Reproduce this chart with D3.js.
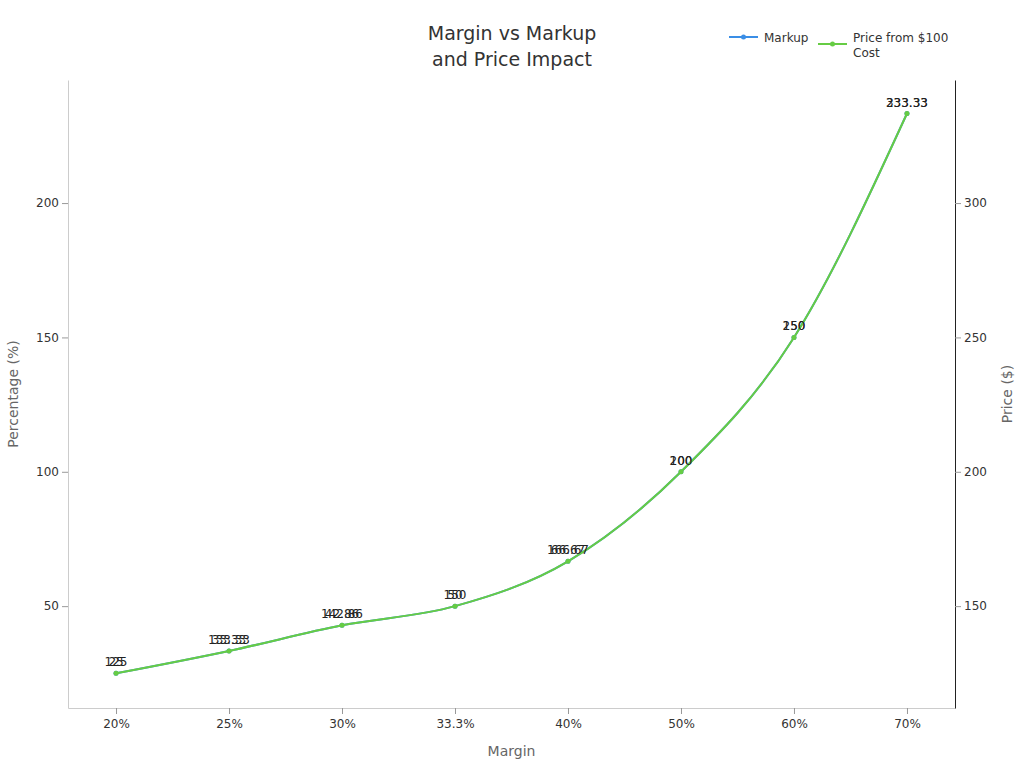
<!DOCTYPE html>
<html>
<head>
<meta charset="utf-8">
<script src="https://cdn.jsdelivr.net/npm/d3@7"></script>
<style>
  body { margin: 0; background: #fff; }
  svg { font-family: "DejaVu Sans", sans-serif; }
</style>
</head>
<body>
<svg id="chart" width="1024" height="768"></svg>
<script>
const margins = ["20%", "25%", "30%", "33.3%", "40%", "50%", "60%", "70%"];
const markup = [25, 33.33, 42.86, 50, 66.67, 100, 150, 233.33];
const price = [125, 133.33, 142.86, 150, 166.67, 200, 250, 333.33];
const leftTicks = [50, 100, 150, 200];
const rightTicks = [150, 200, 250, 300];

const size = { width: 1024, height: 768 };
const plot = { top: 80, right: 955, bottom: 708, left: 68 };
const colors = { markup: "#3a8ee6", price: "#66cc44" };

const svg = d3.select("#chart");

const x = d3
  .scalePoint()
  .domain(margins)
  .range([plot.left, plot.right])
  .padding(0.425);

const yLeft = d3
  .scaleLinear()
  .domain([12.1, 245.8])
  .range([plot.bottom, plot.top]);

const yRight = d3
  .scaleLinear()
  .domain([112.1, 345.8])
  .range([plot.bottom, plot.top]);

// title
svg
  .append("text")
  .attr("x", size.width / 2)
  .attr("text-anchor", "middle")
  .style("font-size", "19px")
  .style("fill", "#333")
  .selectAll("tspan")
  .data(["Margin vs Markup", "and Price Impact"])
  .enter()
  .append("tspan")
  .attr("x", size.width / 2)
  .attr("y", (d, i) => 40 + i * 26)
  .text((d) => d);

// axes
const xAxis = svg
  .append("g")
  .attr("transform", `translate(0,${plot.bottom})`)
  .call(d3.axisBottom(x).tickSizeOuter(0));
xAxis.select(".domain").attr("stroke", "#ccc");
xAxis.selectAll(".tick line").attr("stroke", "#999");

const leftAxis = svg
  .append("g")
  .attr("transform", `translate(${plot.left},0)`)
  .call(d3.axisLeft(yLeft).tickValues(leftTicks).tickSizeOuter(0));
leftAxis.select(".domain").attr("stroke", "#ccc");
leftAxis.selectAll(".tick line").attr("stroke", "#999");

const rightAxis = svg
  .append("g")
  .attr("transform", `translate(${plot.right},0)`)
  .call(d3.axisRight(yRight).tickValues(rightTicks).tickSizeOuter(0));
rightAxis.select(".domain").attr("stroke", "#222");
rightAxis.selectAll(".tick line").attr("stroke", "#999");

svg
  .selectAll(".tick text")
  .style("font-family", "DejaVu Sans, sans-serif")
  .style("font-size", "12px")
  .style("fill", "#333");
xAxis.selectAll(".tick text").attr("dy", "0.95em");

// axis titles
svg
  .append("text")
  .attr("x", (plot.left + plot.right) / 2)
  .attr("y", 756)
  .attr("text-anchor", "middle")
  .style("font-size", "14px")
  .style("fill", "#666")
  .text("Margin");

svg
  .append("text")
  .attr("transform", `translate(18,${(plot.top + plot.bottom) / 2}) rotate(-90)`)
  .attr("text-anchor", "middle")
  .style("font-size", "14px")
  .style("fill", "#666")
  .text("Percentage (%)");

svg
  .append("text")
  .attr("transform", `translate(1012,${(plot.top + plot.bottom) / 2}) rotate(-90)`)
  .attr("text-anchor", "middle")
  .style("font-size", "14px")
  .style("fill", "#666")
  .text("Price ($)");

// series
const series = [
  { name: "markup", values: markup, y: yLeft },
  { name: "price", values: price, y: yRight },
];

series.forEach((s) => {
  const line = d3
    .line()
    .x((d, i) => x(margins[i]))
    .y((d) => s.y(d))
    .curve(d3.curveMonotoneX);

  const g = svg.append("g");

  g.append("path")
    .datum(s.values)
    .attr("fill", "none")
    .attr("stroke", colors[s.name])
    .attr("stroke-width", 2)
    .attr("d", line);

  g.selectAll("circle")
    .data(s.values)
    .enter()
    .append("circle")
    .attr("cx", (d, i) => x(margins[i]))
    .attr("cy", (d) => s.y(d))
    .attr("r", 2.5)
    .attr("fill", colors[s.name]);

  g.selectAll(".label")
    .data(s.values)
    .enter()
    .append("text")
    .attr("x", (d, i) => x(margins[i]))
    .attr("y", (d) => s.y(d) - 7)
    .attr("text-anchor", "middle")
    .style("font-size", "12px")
    .style("fill", "#222")
    .text((d) => d);
});

// legend
const legend = svg.append("g");

const legendItems = [
  { color: colors.markup, x: 729, y: 37, lines: ["Markup"] },
  { color: colors.price, x: 818, y: 44, lines: ["Price from $100", "Cost"] },
];

legendItems.forEach((item) => {
  legend
    .append("line")
    .attr("x1", item.x)
    .attr("x2", item.x + 29)
    .attr("y1", item.y)
    .attr("y2", item.y)
    .attr("stroke", item.color)
    .attr("stroke-width", 2);
  legend
    .append("circle")
    .attr("cx", item.x + 14.5)
    .attr("cy", item.y)
    .attr("r", 2.5)
    .attr("fill", item.color);
  legend
    .append("text")
    .style("font-size", "12px")
    .style("fill", "#333")
    .selectAll("tspan")
    .data(item.lines)
    .enter()
    .append("tspan")
    .attr("x", item.x + 35)
    .attr("y", (d, i) => 42 + i * 15)
    .text((d) => d);
});
</script>
</body>
</html>
